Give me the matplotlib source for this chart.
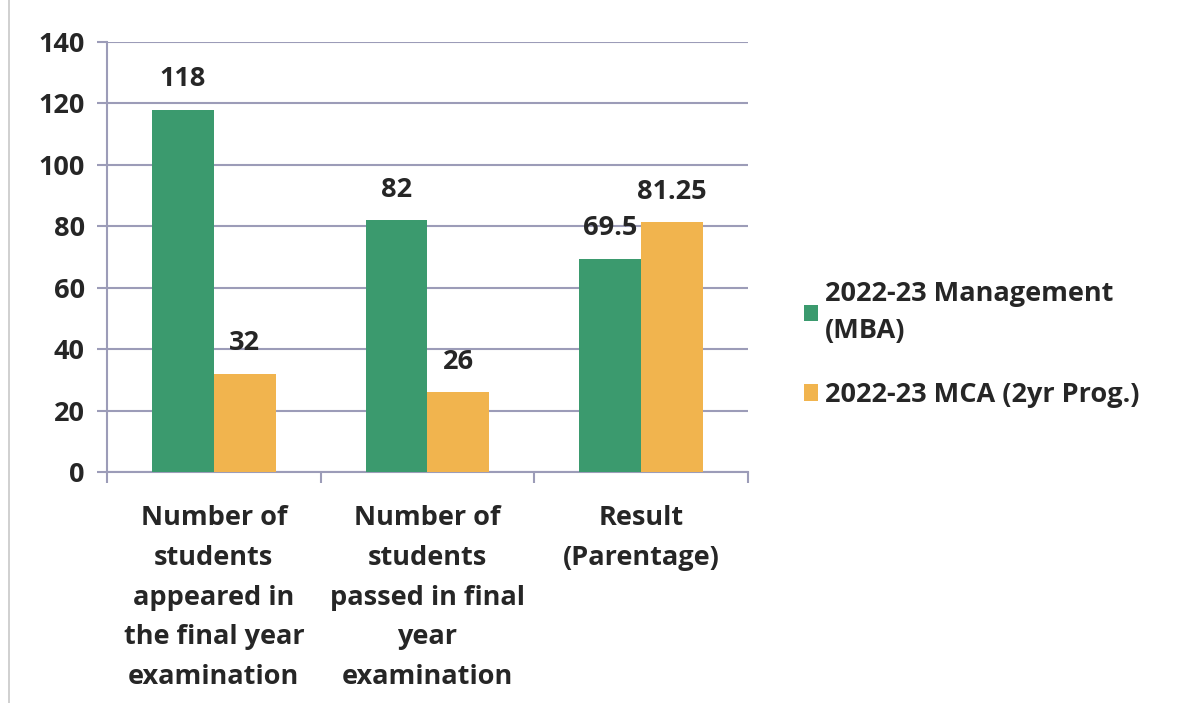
import numpy as np
import matplotlib.pyplot as plt
from matplotlib.patches import Rectangle

plt.rcParams['font.family'] = ['Open Sans', 'DejaVu Sans']

categories = ["Number of\nstudents\nappeared in\nthe final year\nexamination",
              "Number of\nstudents\npassed in final\nyear\nexamination",
              "Result\n(Parentage)"]
mba = [118, 82, 69.5]
mca = [32, 26, 81.25]
mba_labels = ["118", "82", "69.5"]
mca_labels = ["32", "26", "81.25"]
series_names = ["2022-23 Management\n(MBA)", "2022-23 MCA (2yr Prog.)"]

green = '#3b9a6e'
orange = '#f1b44e'
grid_col = '#9c9cb8'
txt = '#262626'
fs = 19.5
wt = 'bold'

fig = plt.figure(figsize=(11.86, 7.03), dpi=100)
fig.patches.append(Rectangle((0.008, -0.01), 1.0, 1.02, transform=fig.transFigure,
                             fill=False, edgecolor='#c8c8c8', lw=1.2))
ax = fig.add_axes([0.0902, 0.3286, 0.5405, 0.6117])

x = np.arange(len(categories))
w = 0.29
b1 = ax.bar(x - w / 2, mba, w, color=green, label=series_names[0], zorder=3)
b2 = ax.bar(x + w / 2, mca, w, color=orange, label=series_names[1], zorder=3)

for bars, labs in [(b1, mba_labels), (b2, mca_labels)]:
    for rect, lab in zip(bars, labs):
        ax.annotate(lab, (rect.get_x() + rect.get_width() / 2, rect.get_height()),
                    xytext=(0, 22), textcoords='offset points', ha='center', va='center',
                    fontsize=fs, fontweight=wt, color=txt, zorder=4)

ax.set_xlim(-0.5, 2.5)
ax.set_ylim(0, 140)
ax.set_yticks(range(0, 141, 20))
ax.yaxis.grid(True, color=grid_col, lw=1.5, zorder=0)
ax.set_xticks([-0.5, 0.5, 1.5, 2.5], minor=False)
ax.set_xticklabels([])
ax.set_xticks(x, minor=True)
ax.set_xticklabels(categories, minor=True, fontsize=fs, fontweight=wt,
                   color=txt, linespacing=1.68)
ax.tick_params(axis='x', which='minor', length=0, pad=24)
ax.tick_params(axis='x', which='major', length=8, color=grid_col, width=1.5, direction='out')
ax.tick_params(axis='y', length=7, color=grid_col, width=1.5, labelsize=fs,
               labelcolor=txt, pad=9)
for lab in ax.get_yticklabels():
    lab.set_fontweight(wt)
for s in ['top', 'right']:
    ax.spines[s].set_visible(False)
for s in ['left', 'bottom']:
    ax.spines[s].set_color(grid_col)
    ax.spines[s].set_linewidth(1.5)

leg = fig.legend(handles=[b1, b2], loc='center left', bbox_to_anchor=(0.657, 0.51),
                 frameon=False, prop={'size': fs, 'weight': wt},
                 handlelength=0.55, handleheight=0.55, handletextpad=0.25,
                 labelspacing=1.4, labelcolor=txt)
leg.get_texts()[0].set_linespacing(1.55)

fig.savefig('out.png', dpi=100)
